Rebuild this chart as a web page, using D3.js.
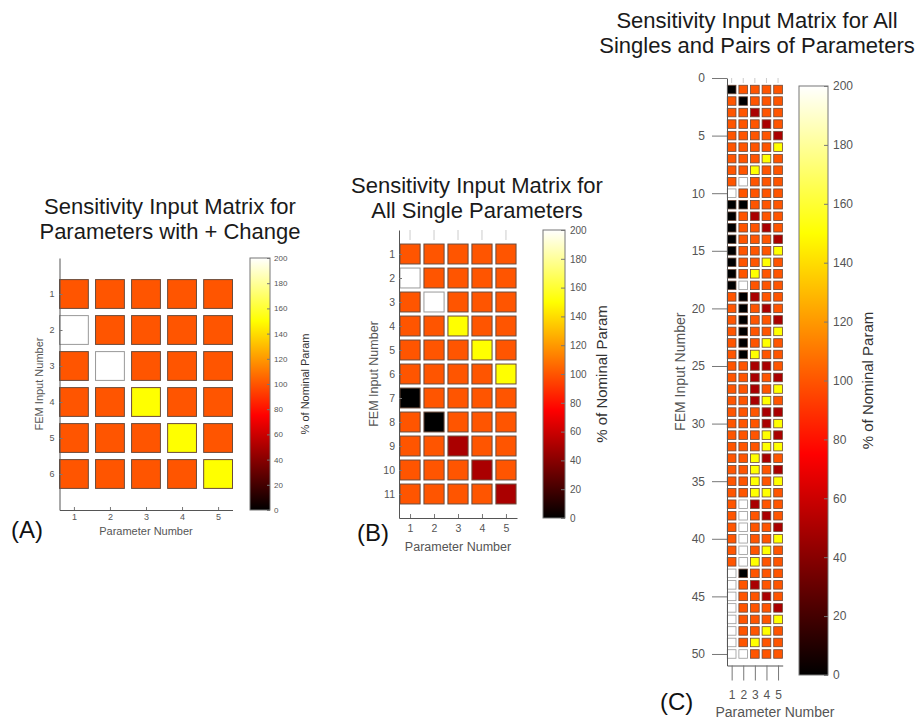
<!DOCTYPE html>
<html>
<head>
<meta charset="utf-8">
<script src="https://cdn.jsdelivr.net/npm/d3@7"></script>
<style>
  body { margin: 0; background: #fff; }
  text { font-family: "Liberation Sans", Arial, sans-serif; }
</style>
</head>
<body>
<svg id="fig" width="922" height="725"></svg>
<script>
const svg = d3.select("svg#fig");

// values are % of nominal parameter
const paramNumbers = [1, 2, 3, 4, 5];
const cbTicks = [0, 20, 40, 60, 80, 100, 120, 140, 160, 180, 200];

const matrixA = [
  [100, 100, 100, 100, 100],
  [200, 100, 100, 100, 100],
  [100, 200, 100, 100, 100],
  [100, 100, 150, 100, 100],
  [100, 100, 100, 150, 100],
  [100, 100, 100, 100, 150]
];

const matrixB = [
  [100, 100, 100, 100, 100],
  [200, 100, 100, 100, 100],
  [100, 200, 100, 100, 100],
  [100, 100, 150, 100, 100],
  [100, 100, 100, 150, 100],
  [100, 100, 100, 100, 150],
  [0, 100, 100, 100, 100],
  [100, 0, 100, 100, 100],
  [100, 100, 50, 100, 100],
  [100, 100, 100, 50, 100],
  [100, 100, 100, 100, 50]
];

const matrixC = [
  [0, 100, 100, 100, 100],
  [100, 0, 100, 100, 100],
  [100, 100, 50, 100, 100],
  [100, 100, 100, 50, 100],
  [100, 100, 100, 100, 50],
  [100, 100, 100, 100, 150],
  [100, 100, 100, 150, 100],
  [100, 100, 150, 100, 100],
  [100, 200, 100, 100, 100],
  [200, 100, 100, 100, 100],
  [0, 0, 100, 100, 100],
  [0, 100, 50, 100, 100],
  [0, 100, 100, 50, 100],
  [0, 100, 100, 100, 50],
  [0, 100, 100, 100, 150],
  [0, 100, 100, 150, 100],
  [0, 100, 150, 100, 100],
  [0, 200, 100, 100, 100],
  [100, 0, 50, 100, 100],
  [100, 0, 100, 50, 100],
  [100, 0, 100, 100, 50],
  [100, 0, 100, 100, 150],
  [100, 0, 100, 150, 100],
  [100, 0, 150, 100, 100],
  [100, 100, 50, 50, 100],
  [100, 100, 50, 100, 50],
  [100, 100, 50, 100, 150],
  [100, 100, 50, 150, 100],
  [100, 100, 100, 50, 50],
  [100, 100, 100, 50, 150],
  [100, 100, 100, 150, 50],
  [100, 100, 100, 150, 150],
  [100, 100, 150, 50, 100],
  [100, 100, 150, 100, 50],
  [100, 100, 150, 100, 150],
  [100, 100, 150, 150, 100],
  [100, 200, 50, 100, 100],
  [100, 200, 100, 50, 100],
  [100, 200, 100, 100, 50],
  [100, 200, 100, 100, 150],
  [100, 200, 100, 150, 100],
  [100, 200, 150, 100, 100],
  [200, 0, 100, 100, 100],
  [200, 100, 50, 100, 100],
  [200, 100, 100, 50, 100],
  [200, 100, 100, 100, 50],
  [200, 100, 100, 100, 150],
  [200, 100, 100, 150, 100],
  [200, 100, 150, 100, 100],
  [200, 200, 100, 100, 100]
];

const ticksC = [0, 5, 10, 15, 20, 25, 30, 35, 40, 45, 50];

// matlab "hot" colormap over 0..200
function clamp(v) { return Math.max(0, Math.min(1, v)); }
function hot(v) {
  let t = v / 200;
  return d3.rgb(255 * clamp(t / 0.375), 255 * clamp((t - 0.375) / 0.375), 255 * clamp((t - 0.75) / 0.25)).toString();
}

let grad = svg.append("defs").append("linearGradient")
  .attr("id", "hotgrad")
  .attr("x1", 0).attr("y1", 0).attr("x2", 0).attr("y2", 1);
d3.range(0, 41).forEach(function(i) {
  grad.append("stop")
    .attr("offset", i / 40)
    .attr("stop-color", hot(200 * (1 - i / 40)));
});

function drawPanel(p) {
  let g = svg.append("g");
  let cells = [];
  p.data.forEach(function(row, r) {
    row.forEach(function(v, c) {
      cells.push({ row: r + 1, col: paramNumbers[c], value: v });
    });
  });

  let x = d3.scaleLinear().domain(p.xDomain).range(p.xRange);
  let y = d3.scaleLinear().domain(p.yDomain).range(p.yRange);
  let cw = p.cellW * Math.abs(x(1) - x(0));
  let ch = p.cellH * Math.abs(y(1) - y(0));

  // faint ticks along the top edge
  g.selectAll(".toptick")
    .data(paramNumbers)
    .enter().append("line")
      .attr("x1", d => x(d)).attr("x2", d => x(d))
      .attr("y1", p.yRange[0]).attr("y2", p.yRange[0] + p.topTick)
      .attr("stroke", "#ccc").attr("stroke-width", 1);

  g.selectAll("rect.cell")
    .data(cells)
    .enter().append("rect")
      .attr("class", "cell")
      .attr("x", d => x(d.col) - cw / 2)
      .attr("y", d => y(d.row) - ch / 2)
      .attr("width", cw)
      .attr("height", ch)
      .attr("fill", d => hot(d.value))
      .attr("stroke", d => d.value >= 200 ? "#999" : "#6b4a3a")
      .attr("stroke-width", p.cellStroke);

  let yAxis = d3.axisLeft(y)
    .tickValues(p.yTicks)
    .tickFormat(d3.format("d"))
    .tickSizeInner(p.yTickSize)
    .tickSizeOuter(0)
    .tickPadding(p.yPad);
  let xAxis = d3.axisBottom(x)
    .tickValues(paramNumbers)
    .tickFormat(d3.format("d"))
    .tickSizeInner(p.xTickSize)
    .tickSizeOuter(0)
    .tickPadding(p.xPad);

  let ya = g.append("g")
    .attr("transform", "translate(" + p.xRange[0] + ",0)")
    .call(yAxis);
  let xa = g.append("g")
    .attr("transform", "translate(0," + p.yRange[1] + ")")
    .call(xAxis);
  [ya, xa].forEach(function(a) {
    a.select(".domain").attr("stroke", "#555");
    a.selectAll(".tick line").attr("stroke", "#777");
    a.selectAll("text")
      .attr("fill", "#555")
      .style("font-size", p.tickFont + "px")
      .style("font-family", "'Liberation Sans', Arial, sans-serif");
  });

  // titles
  p.title.forEach(function(t, i) {
    g.append("text")
      .attr("x", p.titleX)
      .attr("y", p.titleY + i * p.titleGap)
      .attr("text-anchor", "middle")
      .attr("fill", "#1a1a1a")
      .style("font-size", "22px")
      .text(t);
  });

  g.append("text")
    .attr("transform", "translate(" + p.yLabelX + "," + ((p.yRange[0] + p.yRange[1]) / 2) + ") rotate(-90)")
    .attr("text-anchor", "middle")
    .attr("dy", "0.35em")
    .attr("fill", "#555")
    .style("font-size", p.labelFont + "px")
    .text("FEM Input Number");

  g.append("text")
    .attr("x", p.xLabelX)
    .attr("y", p.xLabelY)
    .attr("text-anchor", "middle")
    .attr("fill", "#555")
    .style("font-size", p.labelFont + "px")
    .text("Parameter Number");

  // colorbar
  let cb = p.cb;
  let cy = d3.scaleLinear().domain([0, 200]).range([cb.y1, cb.y0]);
  g.append("rect")
    .attr("x", cb.x0).attr("y", cb.y0)
    .attr("width", cb.x1 - cb.x0).attr("height", cb.y1 - cb.y0)
    .attr("fill", "url(#hotgrad)")
    .attr("stroke", "#777").attr("stroke-width", 1);
  let ca = g.append("g")
    .attr("transform", "translate(" + cb.x1 + ",0)")
    .call(d3.axisRight(cy).tickValues(cbTicks).tickSizeInner(-cb.tick).tickSizeOuter(0).tickPadding(cb.pad));
  ca.select(".domain").remove();
  ca.selectAll(".tick line").attr("stroke", "#777");
  ca.selectAll("text")
    .attr("fill", "#555")
    .style("font-size", cb.font + "px")
    .style("font-family", "'Liberation Sans', Arial, sans-serif");

  g.append("text")
    .attr("transform", "translate(" + cb.labelX + "," + ((cb.y0 + cb.y1) / 2) + ") rotate(-90)")
    .attr("text-anchor", "middle")
    .attr("dy", "0.35em")
    .attr("fill", "#333")
    .style("font-size", cb.labelFont + "px")
    .text("% of Nominal Param");

  g.append("text")
    .attr("x", p.tagX).attr("y", p.tagY)
    .attr("fill", "#111")
    .style("font-size", "24px")
    .text(p.tag);
}

drawPanel({
  data: matrixA, tag: "(A)", tagX: 11, tagY: 538,
  title: ["Sensitivity Input Matrix for", "Parameters with + Change"],
  titleX: 170, titleY: 214, titleGap: 25,
  xDomain: [0.6, 5.4], xRange: [59.5, 232.5],
  yDomain: [0, 7], yRange: [258, 510],
  cellW: 0.8, cellH: 0.8, cellStroke: 1, topTick: 0,
  yTicks: [1, 2, 3, 4, 5, 6], yTickSize: -3, yPad: 5, xTickSize: -3, xPad: 4,
  tickFont: 9, labelFont: 11, yLabelX: 39, xLabelX: 146, xLabelY: 535,
  cb: { x0: 250, x1: 270, y0: 258, y1: 510, tick: 3, pad: 4, font: 8, labelX: 305, labelFont: 11 }
});

drawPanel({
  data: matrixB, tag: "(B)", tagX: 357, tagY: 541,
  title: ["Sensitivity Input Matrix for", "All Single Parameters"],
  titleX: 477, titleY: 193, titleGap: 25,
  xDomain: [0.54, 5.46], xRange: [399, 517],
  yDomain: [0, 12], yRange: [230, 518],
  cellW: 0.84, cellH: 0.83, cellStroke: 1, topTick: 10,
  yTicks: d3.range(1, 12), yTickSize: -3, yPad: 4, xTickSize: -4, xPad: 7,
  tickFont: 10.5, labelFont: 12.5, yLabelX: 374, xLabelX: 458, xLabelY: 551,
  cb: { x0: 543, x1: 565, y0: 230, y1: 518, tick: 4, pad: 5, font: 10, labelX: 602, labelFont: 15 }
});

drawPanel({
  data: matrixC, tag: "(C)", tagX: 660, tagY: 710,
  title: ["Sensitivity Input Matrix for All", "Singles and Pairs of Parameters"],
  titleX: 757, titleY: 28, titleGap: 25,
  xDomain: [0.6, 5.4], xRange: [727, 782.7],
  yDomain: [0, 51], yRange: [78, 665.5],
  cellW: 0.75, cellH: 0.74, cellStroke: 0.8, topTick: 5,
  yTicks: ticksC, yTickSize: 15, yPad: 7, xTickSize: 15, xPad: 10,
  tickFont: 12, labelFont: 14, yLabelX: 680, xLabelX: 775, xLabelY: 717,
  cb: { x0: 799, x1: 828, y0: 86, y1: 675, tick: 4, pad: 5, font: 12, labelX: 868, labelFont: 15 }
});
</script>
</body>
</html>
